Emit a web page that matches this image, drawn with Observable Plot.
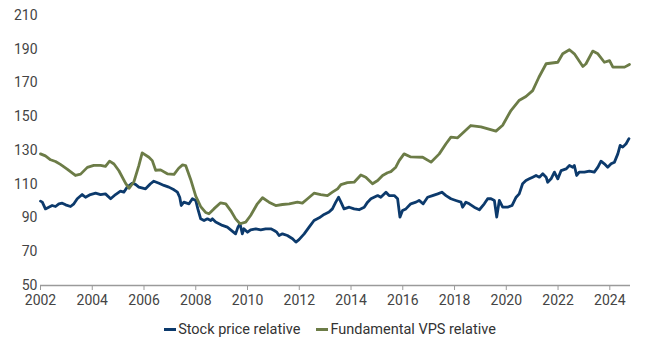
<!DOCTYPE html>
<html>
<head>
<meta charset="utf-8">
<script src="https://cdn.jsdelivr.net/npm/d3@7"></script>
<script src="https://cdn.jsdelivr.net/npm/@observablehq/plot@0.6"></script>
<style>
  html, body { margin: 0; padding: 0; background: #fff; }
  #chart { width: 650px; }
  .legend { display: flex; justify-content: center; gap: 16px; font-family: Roboto, "Liberation Sans", sans-serif; font-size: 14.5px; color: #333; margin-top: 6px; padding-left: 10px; }
  .legend span { display: inline-flex; align-items: center; }
  .legend i { display: inline-block; width: 12px; height: 3px; margin-right: 2px; }
</style>
</head>
<body>
<div id="chart"></div>
<script>
const seriesNames = ["Stock price relative", "Fundamental VPS relative"];
const seriesColors = ["#0c3a6c", "#6c7c47"];
const yTicks = [50, 70, 90, 110, 130, 150, 170, 190, 210];
const xTicks = [2002, 2004, 2006, 2008, 2010, 2012, 2014, 2016, 2018, 2020, 2022, 2024];

const stockYears = [2002.00,2002.07,2002.19,2002.32,2002.45,2002.58,2002.71,2002.84,2002.97,2003.16,2003.29,2003.42,2003.61,2003.74,2003.93,2004.13,2004.32,2004.51,2004.71,2004.90,2005.09,2005.22,2005.35,2005.55,2005.67,2005.80,2006.06,2006.25,2006.38,2006.58,2006.77,2006.96,2007.16,2007.29,2007.38,2007.44,2007.54,2007.74,2007.87,2008.00,2008.08,2008.19,2008.32,2008.45,2008.58,2008.64,2008.77,2008.90,2009.03,2009.22,2009.35,2009.54,2009.63,2009.71,2009.80,2009.86,2010.00,2010.12,2010.32,2010.51,2010.70,2010.90,2011.03,2011.13,2011.22,2011.35,2011.54,2011.74,2011.87,2011.99,2012.19,2012.38,2012.57,2012.77,2012.96,2013.15,2013.28,2013.41,2013.52,2013.61,2013.73,2013.93,2014.12,2014.31,2014.51,2014.64,2014.77,2014.89,2015.03,2015.15,2015.35,2015.47,2015.67,2015.80,2015.89,2015.99,2016.12,2016.31,2016.51,2016.63,2016.79,2016.96,2017.15,2017.35,2017.51,2017.67,2017.86,2018.05,2018.25,2018.31,2018.44,2018.57,2018.76,2018.96,2019.15,2019.28,2019.41,2019.54,2019.63,2019.73,2019.86,2020.05,2020.22,2020.38,2020.50,2020.63,2020.76,2020.89,2021.02,2021.15,2021.28,2021.41,2021.54,2021.60,2021.73,2021.86,2021.99,2022.12,2022.31,2022.44,2022.57,2022.63,2022.72,2022.82,2023.02,2023.21,2023.40,2023.54,2023.66,2023.79,2023.92,2024.05,2024.18,2024.31,2024.40,2024.50,2024.63,2024.74];
const stockValues = [100,99.4,95.4,96.4,97.4,96.8,98.4,98.8,97.8,96.8,98.4,101.4,103.9,102.3,103.9,104.7,103.9,104.3,101.4,103.9,105.9,105.3,108.3,110.6,109.9,108.3,107.3,110.3,111.8,110.6,109.3,108.3,106.7,105.3,102.3,97.4,99.4,98.4,101.4,100.4,95.4,89.5,88.5,89.5,88.5,89.5,87.6,86.6,85.6,84.6,83,80.6,84.6,86.6,80.6,83.6,81.6,83,83.6,83,83.6,83.6,82.6,81.6,79.6,80.6,79.6,77.7,75.7,77.2,80.6,84.6,88.5,90.1,92.1,93.5,95.4,99.4,102.3,99.4,95.4,96.4,95.4,94.9,96.4,99.4,101.4,102.3,103.3,102.3,105.3,103.3,103.3,101.4,90.5,94.4,95.4,98.4,99.4,100.4,98.4,102.3,103.3,104.3,105.3,103.3,101.4,100.4,99.4,96.4,99.4,98.4,96.4,94.9,98.4,101.4,101.4,100.4,90.5,100.4,96.4,96.4,97.4,102.3,104.3,110.3,112.2,113.2,114.2,115.2,114.2,116.2,114.2,111.2,113.2,117.2,113.2,118.1,119.1,121.1,120.1,121.1,115.2,117.2,117.2,117.8,117.2,120.1,123.7,122.1,120.1,122.1,123.1,128,133,132,134,137];

const vpsYears = [2002.00,2002.19,2002.39,2002.58,2002.77,2003.03,2003.35,2003.55,2003.81,2004.06,2004.32,2004.51,2004.67,2004.84,2005.03,2005.29,2005.42,2005.61,2005.80,2005.93,2006.19,2006.32,2006.45,2006.64,2006.90,2007.16,2007.34,2007.49,2007.61,2007.80,2008.00,2008.19,2008.38,2008.51,2008.70,2008.96,2009.16,2009.35,2009.54,2009.71,2009.93,2010.12,2010.38,2010.58,2010.83,2011.09,2011.35,2011.61,2011.93,2012.12,2012.32,2012.57,2012.83,2013.09,2013.28,2013.48,2013.61,2013.86,2014.12,2014.38,2014.57,2014.83,2015.03,2015.22,2015.41,2015.54,2015.73,2015.86,2016.05,2016.31,2016.77,2017.09,2017.41,2017.67,2017.86,2018.12,2018.36,2018.63,2019.02,2019.60,2019.86,2020.18,2020.49,2020.76,2021.02,2021.26,2021.54,2021.99,2022.18,2022.44,2022.63,2022.96,2023.08,2023.34,2023.54,2023.79,2023.99,2024.12,2024.57,2024.76];
const vpsValues = [128,126.8,124.5,123.5,121.8,119,115.2,116,120,121.2,121.2,120.6,123.7,122,118,110.5,107.6,111.5,121,128.6,126,124,118.3,118.5,116.2,115.8,119.5,121.5,121.1,113,103,96.8,93.3,92.5,95.4,99,98.4,94.4,89.5,86.6,87.6,91.5,98.4,102,99.4,97.4,98,98.4,99.4,98.8,101.4,104.7,103.9,103.3,105.3,107.3,109.8,111,111.2,115.5,114.2,110.3,112.2,115.2,116.8,117.5,120.1,124,128,126.2,126,123.1,128,134,137.9,137.5,141,144.8,144,141.5,145,153.7,159.6,162,165.5,173.4,181.4,182.3,187.3,189.7,187.3,179.8,181.4,188.9,187.3,182.3,183.3,179.4,179.4,181];

const data = [
  ...stockYears.map((x, i) => ({x, y: stockValues[i], s: seriesNames[0]})),
  ...vpsYears.map((x, i) => ({x, y: vpsValues[i], s: seriesNames[1]}))
];

const chart = Plot.plot({
  width: 650,
  height: 315,
  marginLeft: 40,
  marginRight: 20,
  marginTop: 15,
  marginBottom: 30,
  style: { fontFamily: "Roboto, 'Liberation Sans', sans-serif", fontSize: "14px", color: "#444", background: "#fff" },
  x: { domain: [2002, 2024.8] },
  y: { domain: [50, 210] },
  color: { domain: seriesNames, range: seriesColors },
  marks: [
    Plot.ruleY([50], { stroke: "#9a9a9a", strokeWidth: 1.5 }),
    Plot.axisY({ ticks: yTicks, tickSize: 0, tickPadding: 3, label: null, fill: "#444" }),
    Plot.axisX({ ticks: xTicks, tickFormat: d => String(d), tickSize: 5, tickPadding: 5, label: null, stroke: "#9a9a9a", fill: "#444" }),
    Plot.line(data, { x: "x", y: "y", z: "s", stroke: "s", strokeWidth: 2.8, curve: "linear" })
  ]
});
document.getElementById("chart").appendChild(chart);

const legend = document.createElement("div");
legend.className = "legend";
seriesNames.forEach((n, i) => {
  const sp = document.createElement("span");
  const sw = document.createElement("i");
  sw.style.background = seriesColors[i];
  sp.appendChild(sw);
  sp.appendChild(document.createTextNode(n));
  legend.appendChild(sp);
});
document.getElementById("chart").appendChild(legend);
</script>
</body>
</html>
